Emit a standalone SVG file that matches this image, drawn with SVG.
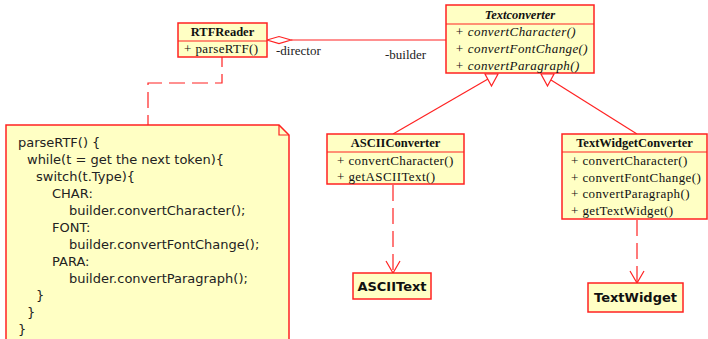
<svg xmlns="http://www.w3.org/2000/svg" width="708" height="339" viewBox="0 0 708 339">
<style>
.box{fill:#ffffc4;stroke:#f22;stroke-width:1.5}
.ln{stroke:#f22;stroke-width:1.2;fill:none}
.dash{stroke:#f22;stroke-width:1.2;fill:none;stroke-dasharray:16,7}
.hd{font-family:"Liberation Serif",serif;font-weight:bold;font-size:12.5px;fill:#111;text-anchor:middle}
.hdi{font-family:"Liberation Serif",serif;font-weight:bold;font-style:italic;font-size:12.5px;fill:#111;text-anchor:middle}
.m{font-family:"Liberation Serif",serif;font-size:13px;letter-spacing:0.4px;fill:#111}
.mi{font-family:"Liberation Serif",serif;font-style:italic;font-size:13px;letter-spacing:0.4px;fill:#111}
.lbl{font-family:"Liberation Serif",serif;font-size:13px;fill:#222}
.note{font-family:"DejaVu Sans",sans-serif;font-size:13px;fill:#222}
.bx{font-family:"DejaVu Sans",sans-serif;font-weight:bold;font-size:13px;fill:#111;text-anchor:middle}
</style>
<g id="connectors">
  <line class="ln" x1="291" y1="40" x2="446" y2="40"/>
  <polygon points="267,40 279,36.5 291,40 279,43.5" fill="#fff" stroke="#f22" stroke-width="1.2"/>
  <polyline class="dash" points="222,57 222,83 148,83 148,125" stroke-dashoffset="6"/>
  <line class="ln" x1="393" y1="134" x2="488" y2="79"/>
  <polygon points="485,74 498,74 491.5,86" fill="#fff" stroke="#f22" stroke-width="1.2"/>
  <line class="ln" x1="637" y1="134" x2="551" y2="80"/>
  <polygon points="541,74 554,74 547.5,86" fill="#fff" stroke="#f22" stroke-width="1.2"/>
  <line class="dash" x1="393" y1="185" x2="393" y2="272"/>
  <polyline class="ln" points="386,261 393,273 400,261"/>
  <line class="dash" x1="637" y1="220" x2="637" y2="282"/>
  <polyline class="ln" points="630,271 637,283 644,271"/>
</g>
<g id="RTFReader">
  <rect class="box" x="178" y="23" width="89" height="34"/>
  <line class="ln" x1="178" y1="41" x2="267" y2="41"/>
  <text class="hd" x="222.5" y="36">RTFReader</text>
  <text class="m" x="184" y="53">+ parseRTF()</text>
</g>
<text class="lbl" x="276" y="55">-director</text>
<text class="lbl" x="385" y="59">-builder</text>
<g id="Textconverter">
  <rect class="box" x="446" y="5" width="148" height="68"/>
  <line class="ln" x1="446" y1="24" x2="594" y2="24"/>
  <text class="hdi" x="520" y="19">Textconverter</text>
  <text class="mi" x="455" y="36">+ convertCharacter()</text>
  <text class="mi" x="455" y="53">+ convertFontChange()</text>
  <text class="mi" x="455" y="70">+ convertParagraph()</text>
</g>
<g id="ASCIIConverter">
  <rect class="box" x="327" y="134" width="137" height="50"/>
  <line class="ln" x1="327" y1="152" x2="464" y2="152"/>
  <text class="hd" x="395.5" y="147">ASCIIConverter</text>
  <text class="m" x="337" y="165">+ convertCharacter()</text>
  <text class="m" x="337" y="181">+ getASCIIText()</text>
</g>
<g id="TextWidgetConverter">
  <rect class="box" x="562" y="134" width="145" height="85"/>
  <line class="ln" x1="562" y1="152" x2="707" y2="152"/>
  <text class="hd" x="634.5" y="147">TextWidgetConverter</text>
  <text class="m" x="571" y="165">+ convertCharacter()</text>
  <text class="m" x="571" y="182">+ convertFontChange()</text>
  <text class="m" x="571" y="198">+ convertParagraph()</text>
  <text class="m" x="571" y="215">+ getTextWidget()</text>
</g>
<g id="ASCIIText">
  <rect class="box" x="353" y="273" width="78" height="26"/>
  <text class="bx" x="392" y="291">ASCIIText</text>
</g>
<g id="TextWidget">
  <rect class="box" x="588" y="283" width="95" height="29"/>
  <text class="bx" x="635.5" y="302">TextWidget</text>
</g>
<g id="note">
  <path class="box" d="M6,125 H279 L289,135 V345 H6 Z"/>
  <polyline class="ln" points="279,125 279,135 289,135"/>
  <text class="note" x="18" y="147">parseRTF() {</text>
  <text class="note" x="27" y="164">while(t = get the next token){</text>
  <text class="note" x="36" y="181">switch(t.Type){</text>
  <text class="note" x="52" y="198">CHAR:</text>
  <text class="note" x="69" y="215">builder.convertCharacter();</text>
  <text class="note" x="52" y="232">FONT:</text>
  <text class="note" x="69" y="249">builder.convertFontChange();</text>
  <text class="note" x="52" y="266">PARA:</text>
  <text class="note" x="69" y="283">builder.convertParagraph();</text>
  <text class="note" x="36" y="300">}</text>
  <text class="note" x="27" y="317">}</text>
  <text class="note" x="18" y="334">}</text>
</g>
</svg>
